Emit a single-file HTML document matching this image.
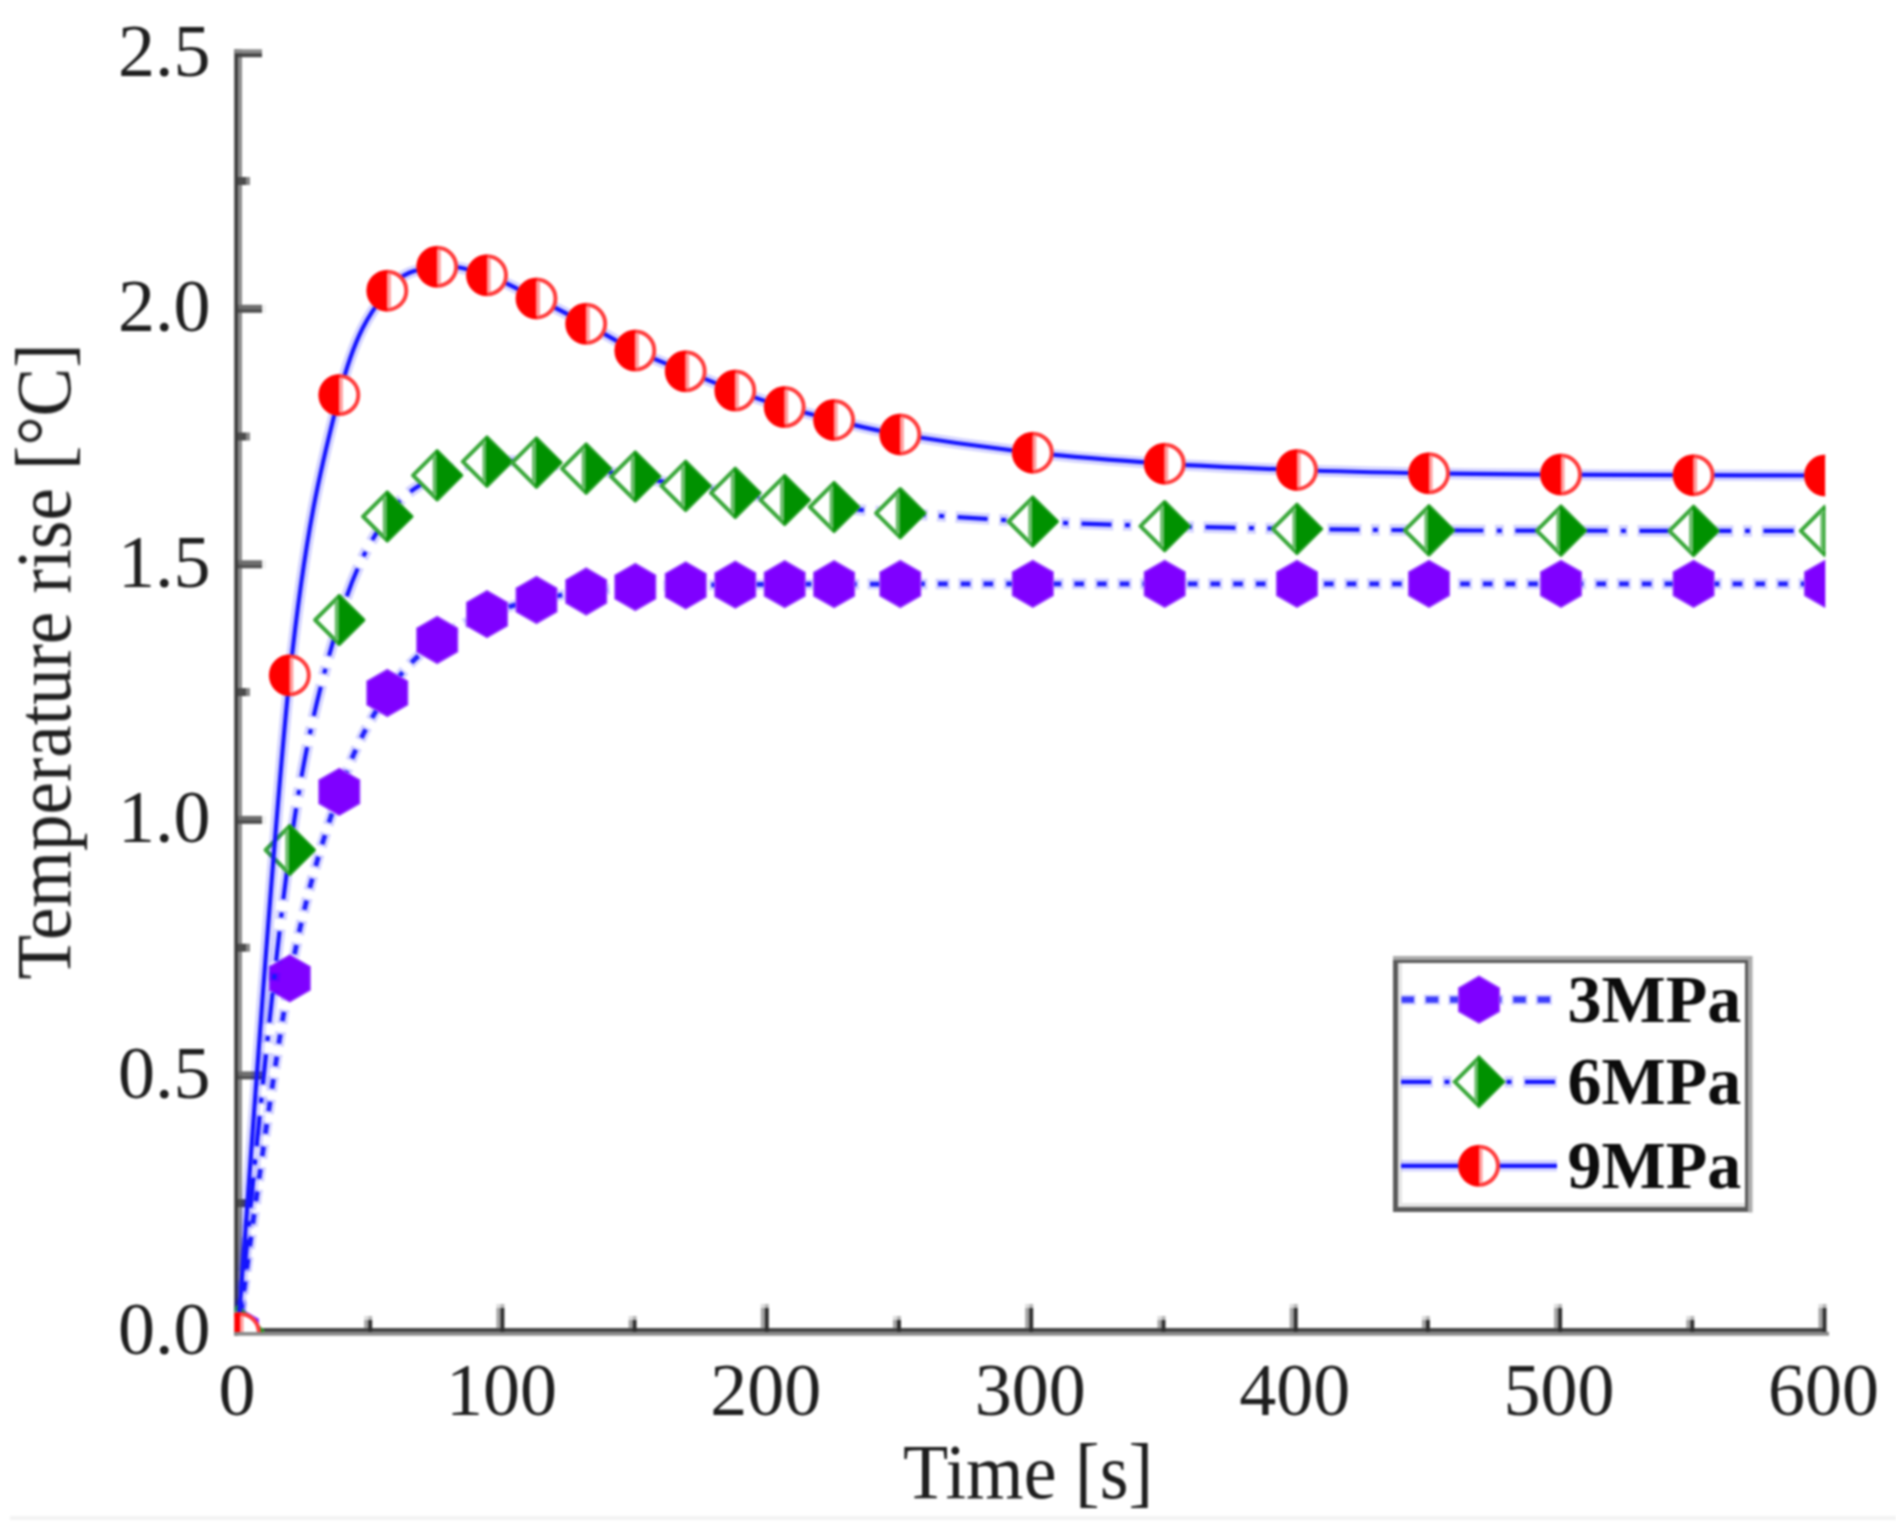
<!DOCTYPE html>
<html lang="en"><head><meta charset="utf-8"><title>Temperature rise vs time</title>
<style>html,body{margin:0;padding:0;background:#fff;}body{width:1896px;height:1530px;overflow:hidden;}svg{display:block;}text{font-family:"Liberation Serif",serif;fill:#1e1e1e;}</style>
</head><body>
<svg width="1896" height="1530" viewBox="0 0 1896 1530">
<defs><clipPath id="plot"><rect x="234.3" y="0" width="1591.0" height="1331.9"/></clipPath></defs>
<filter id="soft" x="0" y="0" width="100%" height="100%" filterUnits="userSpaceOnUse" color-interpolation-filters="sRGB"><feGaussianBlur stdDeviation="0.90"/></filter>
<rect x="0" y="0" width="1896" height="1530" fill="#fff"/>
<g filter="url(#soft)">
<rect x="0" y="0" width="1896" height="1530" fill="#fff"/>
<rect x="10" y="1516" width="1886" height="4" fill="#f3f3f3"/>
<g>
<rect x="234.3" y="49.3" width="3.9" height="1286.4" fill="#3c3c3c"/>
<rect x="238.2" y="49.3" width="3.8" height="1282.5" fill="#8a8a8a"/>
<rect x="242" y="1328.1" width="1584.0" height="3.8" fill="#3c3c3c"/>
<rect x="234.3" y="1331.8" width="1594.7" height="3.9" fill="#8a8a8a"/>
<rect x="238" y="1199.2" width="8" height="8" fill="#4c4c4c"/>
<rect x="246" y="1199.2" width="4" height="8" fill="#888"/>
<rect x="238" y="1071.4" width="24" height="4" fill="#6c6c6c"/>
<rect x="238" y="1075.4" width="24" height="4" fill="#505050"/>
<rect x="262" y="1071.4" width="4" height="8" fill="#f2f2f2"/>
<rect x="238" y="943.7" width="8" height="8" fill="#4c4c4c"/>
<rect x="246" y="943.7" width="4" height="8" fill="#888"/>
<rect x="238" y="815.9" width="24" height="4" fill="#6c6c6c"/>
<rect x="238" y="819.9" width="24" height="4" fill="#505050"/>
<rect x="262" y="815.9" width="4" height="8" fill="#f2f2f2"/>
<rect x="238" y="688.1" width="8" height="8" fill="#4c4c4c"/>
<rect x="246" y="688.1" width="4" height="8" fill="#888"/>
<rect x="238" y="560.3" width="24" height="4" fill="#6c6c6c"/>
<rect x="238" y="564.3" width="24" height="4" fill="#505050"/>
<rect x="262" y="560.3" width="4" height="8" fill="#f2f2f2"/>
<rect x="238" y="432.5" width="8" height="8" fill="#4c4c4c"/>
<rect x="246" y="432.5" width="4" height="8" fill="#888"/>
<rect x="238" y="304.8" width="24" height="4" fill="#6c6c6c"/>
<rect x="238" y="308.8" width="24" height="4" fill="#505050"/>
<rect x="262" y="304.8" width="4" height="8" fill="#f2f2f2"/>
<rect x="238" y="177.0" width="8" height="8" fill="#4c4c4c"/>
<rect x="246" y="177.0" width="4" height="8" fill="#888"/>
<rect x="234.3" y="49.3" width="27.7" height="4" fill="#8a8a8a"/>
<rect x="238" y="53.2" width="24.0" height="4" fill="#444"/>
<rect x="364.2" y="1320.0" width="4" height="8.1" fill="#a4a4a4"/>
<rect x="368.2" y="1320.0" width="4" height="12.0" fill="#2e2e2e"/>
<rect x="364.2" y="1316.0" width="4" height="4" fill="#dcdcdc"/>
<rect x="368.2" y="1316.0" width="4" height="4" fill="#b4b4b4"/>
<rect x="496.4" y="1308.0" width="4" height="20.1" fill="#a4a4a4"/>
<rect x="500.4" y="1308.0" width="4" height="24.0" fill="#2e2e2e"/>
<rect x="496.4" y="1304.0" width="4" height="4" fill="#dcdcdc"/>
<rect x="500.4" y="1304.0" width="4" height="4" fill="#b4b4b4"/>
<rect x="628.6" y="1320.0" width="4" height="8.1" fill="#a4a4a4"/>
<rect x="632.6" y="1320.0" width="4" height="12.0" fill="#2e2e2e"/>
<rect x="628.6" y="1316.0" width="4" height="4" fill="#dcdcdc"/>
<rect x="632.6" y="1316.0" width="4" height="4" fill="#b4b4b4"/>
<rect x="760.8" y="1308.0" width="4" height="20.1" fill="#a4a4a4"/>
<rect x="764.8" y="1308.0" width="4" height="24.0" fill="#2e2e2e"/>
<rect x="760.8" y="1304.0" width="4" height="4" fill="#dcdcdc"/>
<rect x="764.8" y="1304.0" width="4" height="4" fill="#b4b4b4"/>
<rect x="893.0" y="1320.0" width="4" height="8.1" fill="#a4a4a4"/>
<rect x="897.0" y="1320.0" width="4" height="12.0" fill="#2e2e2e"/>
<rect x="893.0" y="1316.0" width="4" height="4" fill="#dcdcdc"/>
<rect x="897.0" y="1316.0" width="4" height="4" fill="#b4b4b4"/>
<rect x="1025.2" y="1308.0" width="4" height="20.1" fill="#a4a4a4"/>
<rect x="1029.2" y="1308.0" width="4" height="24.0" fill="#2e2e2e"/>
<rect x="1025.2" y="1304.0" width="4" height="4" fill="#dcdcdc"/>
<rect x="1029.2" y="1304.0" width="4" height="4" fill="#b4b4b4"/>
<rect x="1157.5" y="1320.0" width="4" height="8.1" fill="#a4a4a4"/>
<rect x="1161.5" y="1320.0" width="4" height="12.0" fill="#2e2e2e"/>
<rect x="1157.5" y="1316.0" width="4" height="4" fill="#dcdcdc"/>
<rect x="1161.5" y="1316.0" width="4" height="4" fill="#b4b4b4"/>
<rect x="1289.7" y="1308.0" width="4" height="20.1" fill="#a4a4a4"/>
<rect x="1293.7" y="1308.0" width="4" height="24.0" fill="#2e2e2e"/>
<rect x="1289.7" y="1304.0" width="4" height="4" fill="#dcdcdc"/>
<rect x="1293.7" y="1304.0" width="4" height="4" fill="#b4b4b4"/>
<rect x="1421.9" y="1320.0" width="4" height="8.1" fill="#a4a4a4"/>
<rect x="1425.9" y="1320.0" width="4" height="12.0" fill="#2e2e2e"/>
<rect x="1421.9" y="1316.0" width="4" height="4" fill="#dcdcdc"/>
<rect x="1425.9" y="1316.0" width="4" height="4" fill="#b4b4b4"/>
<rect x="1554.1" y="1308.0" width="4" height="20.1" fill="#a4a4a4"/>
<rect x="1558.1" y="1308.0" width="4" height="24.0" fill="#2e2e2e"/>
<rect x="1554.1" y="1304.0" width="4" height="4" fill="#dcdcdc"/>
<rect x="1558.1" y="1304.0" width="4" height="4" fill="#b4b4b4"/>
<rect x="1686.3" y="1320.0" width="4" height="8.1" fill="#a4a4a4"/>
<rect x="1690.3" y="1320.0" width="4" height="12.0" fill="#2e2e2e"/>
<rect x="1686.3" y="1316.0" width="4" height="4" fill="#dcdcdc"/>
<rect x="1690.3" y="1316.0" width="4" height="4" fill="#b4b4b4"/>
<rect x="1818.5" y="1308.0" width="4" height="20.1" fill="#a4a4a4"/>
<rect x="1822.5" y="1308.0" width="4" height="24.0" fill="#2e2e2e"/>
<rect x="1818.5" y="1304.0" width="4" height="4" fill="#dcdcdc"/>
<rect x="1822.5" y="1304.0" width="4" height="4" fill="#b4b4b4"/>
</g>
<g clip-path="url(#plot)" fill="none" stroke-linejoin="round">
<path d="M238.0 1331.0 C246.6 1272.2 272.9 1068.3 289.8 978.4 C306.7 888.5 323.1 839.4 339.3 791.8 C355.6 744.2 371.0 718.3 387.3 693.0 C403.6 667.7 420.6 653.1 437.2 640.0 C453.8 626.9 470.4 620.8 487.0 614.1 C503.6 607.4 520.0 603.8 536.5 600.0 C553.0 596.2 569.7 593.7 586.2 591.5 C602.7 589.3 618.7 588.0 635.3 587.0 C651.9 586.0 669.0 585.8 685.7 585.4 C702.4 585.0 718.8 584.9 735.3 584.7 C751.8 584.5 768.2 584.3 784.7 584.2 C801.2 584.1 814.8 584.2 834.1 584.2 C853.4 584.2 867.2 584.1 900.3 584.0 C933.4 583.9 988.7 583.8 1032.8 583.8 C1076.9 583.8 1120.7 583.8 1164.7 583.8 C1208.7 583.8 1253.0 583.8 1297.0 583.8 C1341.0 583.8 1385.0 583.8 1429.0 583.8 C1473.0 583.8 1516.9 583.8 1561.0 583.8 C1605.1 583.8 1649.6 583.8 1693.6 583.8 C1737.6 583.8 1803.1 583.8 1825.0 583.8" stroke="#0000ff" stroke-opacity="0.17" stroke-width="11" stroke-dasharray="14.5 8.2" stroke-dashoffset="7.5"/><path d="M238.0 1331.0 C246.6 1272.2 272.9 1068.3 289.8 978.4 C306.7 888.5 323.1 839.4 339.3 791.8 C355.6 744.2 371.0 718.3 387.3 693.0 C403.6 667.7 420.6 653.1 437.2 640.0 C453.8 626.9 470.4 620.8 487.0 614.1 C503.6 607.4 520.0 603.8 536.5 600.0 C553.0 596.2 569.7 593.7 586.2 591.5 C602.7 589.3 618.7 588.0 635.3 587.0 C651.9 586.0 669.0 585.8 685.7 585.4 C702.4 585.0 718.8 584.9 735.3 584.7 C751.8 584.5 768.2 584.3 784.7 584.2 C801.2 584.1 814.8 584.2 834.1 584.2 C853.4 584.2 867.2 584.1 900.3 584.0 C933.4 583.9 988.7 583.8 1032.8 583.8 C1076.9 583.8 1120.7 583.8 1164.7 583.8 C1208.7 583.8 1253.0 583.8 1297.0 583.8 C1341.0 583.8 1385.0 583.8 1429.0 583.8 C1473.0 583.8 1516.9 583.8 1561.0 583.8 C1605.1 583.8 1649.6 583.8 1693.6 583.8 C1737.6 583.8 1803.1 583.8 1825.0 583.8" stroke="#2222fd" stroke-width="4.8" stroke-dasharray="9.5 13.2" stroke-dashoffset="5.0"/>
<polygon points="238.0,1307.5 217.6,1319.2 217.6,1342.8 238.0,1354.5 258.4,1342.8 258.4,1319.2" fill="#7f00ff" stroke="#a050ff" stroke-width="1.5"/>
<polygon points="289.8,954.9 269.4,966.6 269.4,990.1 289.8,1001.9 310.2,990.1 310.2,966.6" fill="#7f00ff" stroke="#a050ff" stroke-width="1.5"/>
<polygon points="339.3,768.3 318.9,780.0 318.9,803.5 339.3,815.3 359.7,803.5 359.7,780.0" fill="#7f00ff" stroke="#a050ff" stroke-width="1.5"/>
<polygon points="387.3,669.5 366.9,681.2 366.9,704.8 387.3,716.5 407.7,704.8 407.7,681.2" fill="#7f00ff" stroke="#a050ff" stroke-width="1.5"/>
<polygon points="437.2,616.5 416.8,628.2 416.8,651.8 437.2,663.5 457.6,651.8 457.6,628.2" fill="#7f00ff" stroke="#a050ff" stroke-width="1.5"/>
<polygon points="487.0,590.6 466.6,602.4 466.6,625.9 487.0,637.6 507.4,625.9 507.4,602.4" fill="#7f00ff" stroke="#a050ff" stroke-width="1.5"/>
<polygon points="536.5,576.5 516.1,588.2 516.1,611.8 536.5,623.5 556.9,611.8 556.9,588.2" fill="#7f00ff" stroke="#a050ff" stroke-width="1.5"/>
<polygon points="586.2,568.0 565.8,579.8 565.8,603.2 586.2,615.0 606.6,603.2 606.6,579.8" fill="#7f00ff" stroke="#a050ff" stroke-width="1.5"/>
<polygon points="635.3,563.5 614.9,575.2 614.9,598.8 635.3,610.5 655.7,598.8 655.7,575.2" fill="#7f00ff" stroke="#a050ff" stroke-width="1.5"/>
<polygon points="685.7,561.9 665.3,573.6 665.3,597.1 685.7,608.9 706.1,597.1 706.1,573.6" fill="#7f00ff" stroke="#a050ff" stroke-width="1.5"/>
<polygon points="735.3,561.2 714.9,573.0 714.9,596.5 735.3,608.2 755.7,596.5 755.7,573.0" fill="#7f00ff" stroke="#a050ff" stroke-width="1.5"/>
<polygon points="784.7,560.7 764.3,572.5 764.3,596.0 784.7,607.7 805.1,596.0 805.1,572.5" fill="#7f00ff" stroke="#a050ff" stroke-width="1.5"/>
<polygon points="834.1,560.7 813.7,572.5 813.7,596.0 834.1,607.7 854.5,596.0 854.5,572.5" fill="#7f00ff" stroke="#a050ff" stroke-width="1.5"/>
<polygon points="900.3,560.5 879.9,572.2 879.9,595.8 900.3,607.5 920.7,595.8 920.7,572.2" fill="#7f00ff" stroke="#a050ff" stroke-width="1.5"/>
<polygon points="1032.8,560.3 1012.4,572.0 1012.4,595.5 1032.8,607.3 1053.2,595.5 1053.2,572.0" fill="#7f00ff" stroke="#a050ff" stroke-width="1.5"/>
<polygon points="1164.7,560.3 1144.3,572.0 1144.3,595.5 1164.7,607.3 1185.1,595.5 1185.1,572.0" fill="#7f00ff" stroke="#a050ff" stroke-width="1.5"/>
<polygon points="1297.0,560.3 1276.6,572.0 1276.6,595.5 1297.0,607.3 1317.4,595.5 1317.4,572.0" fill="#7f00ff" stroke="#a050ff" stroke-width="1.5"/>
<polygon points="1429.0,560.3 1408.6,572.0 1408.6,595.5 1429.0,607.3 1449.4,595.5 1449.4,572.0" fill="#7f00ff" stroke="#a050ff" stroke-width="1.5"/>
<polygon points="1561.0,560.3 1540.6,572.0 1540.6,595.5 1561.0,607.3 1581.4,595.5 1581.4,572.0" fill="#7f00ff" stroke="#a050ff" stroke-width="1.5"/>
<polygon points="1693.6,560.3 1673.2,572.0 1673.2,595.5 1693.6,607.3 1714.0,595.5 1714.0,572.0" fill="#7f00ff" stroke="#a050ff" stroke-width="1.5"/>
<polygon points="1825.0,560.3 1804.6,572.0 1804.6,595.5 1825.0,607.3 1845.4,595.5 1845.4,572.0" fill="#7f00ff" stroke="#a050ff" stroke-width="1.5"/>
<path d="M238.0 1331.0 C246.6 1250.8 272.9 968.5 289.8 850.0 C306.7 731.5 323.1 675.6 339.3 620.0 C355.6 564.4 371.0 540.6 387.3 516.5 C403.6 492.4 420.6 484.4 437.2 475.3 C453.8 466.2 470.4 463.7 487.0 461.6 C503.6 459.5 520.0 461.4 536.5 462.6 C553.0 463.8 569.7 466.3 586.2 468.6 C602.7 470.9 618.7 473.6 635.3 476.5 C651.9 479.4 669.0 483.2 685.7 485.9 C702.4 488.6 718.8 490.5 735.3 492.9 C751.8 495.2 768.2 497.6 784.7 500.0 C801.2 502.4 814.8 504.8 834.1 507.0 C853.4 509.2 867.2 510.8 900.3 513.2 C933.4 515.6 988.7 519.3 1032.8 521.5 C1076.9 523.7 1120.7 525.0 1164.7 526.2 C1208.7 527.4 1253.0 528.2 1297.0 528.9 C1341.0 529.6 1385.0 530.0 1429.0 530.3 C1473.0 530.6 1516.9 530.5 1561.0 530.6 C1605.1 530.7 1649.6 530.9 1693.6 530.9 C1737.6 530.9 1803.1 530.9 1825.0 530.9" stroke="#0000ff" stroke-opacity="0.17" stroke-width="11.5" stroke-dasharray="34 9.5 9 9.5" stroke-dashoffset="2"/><path d="M238.0 1331.0 C246.6 1250.8 272.9 968.5 289.8 850.0 C306.7 731.5 323.1 675.6 339.3 620.0 C355.6 564.4 371.0 540.6 387.3 516.5 C403.6 492.4 420.6 484.4 437.2 475.3 C453.8 466.2 470.4 463.7 487.0 461.6 C503.6 459.5 520.0 461.4 536.5 462.6 C553.0 463.8 569.7 466.3 586.2 468.6 C602.7 470.9 618.7 473.6 635.3 476.5 C651.9 479.4 669.0 483.2 685.7 485.9 C702.4 488.6 718.8 490.5 735.3 492.9 C751.8 495.2 768.2 497.6 784.7 500.0 C801.2 502.4 814.8 504.8 834.1 507.0 C853.4 509.2 867.2 510.8 900.3 513.2 C933.4 515.6 988.7 519.3 1032.8 521.5 C1076.9 523.7 1120.7 525.0 1164.7 526.2 C1208.7 527.4 1253.0 528.2 1297.0 528.9 C1341.0 529.6 1385.0 530.0 1429.0 530.3 C1473.0 530.6 1516.9 530.5 1561.0 530.6 C1605.1 530.7 1649.6 530.9 1693.6 530.9 C1737.6 530.9 1803.1 530.9 1825.0 530.9" stroke="#1616ff" stroke-width="4.2" stroke-dasharray="30 13.5 5 13.5"/>
<polygon points="213.8,1331.0 238.0,1306.8 262.2,1331.0 238.0,1355.2" fill="#fff" stroke="#3aa83a" stroke-width="4"/><polygon points="237.0,1305.8 263.2,1331.0 237.0,1356.2" fill="#009100"/><rect x="233.5" y="1311.8" width="3.5" height="38.4" fill="#66bb66"/>
<polygon points="265.6,850.0 289.8,825.8 314.0,850.0 289.8,874.2" fill="#fff" stroke="#3aa83a" stroke-width="4"/><polygon points="288.8,824.8 315.0,850.0 288.8,875.2" fill="#009100"/><rect x="285.3" y="830.8" width="3.5" height="38.4" fill="#66bb66"/>
<polygon points="315.1,620.0 339.3,595.8 363.5,620.0 339.3,644.2" fill="#fff" stroke="#3aa83a" stroke-width="4"/><polygon points="338.3,594.8 364.5,620.0 338.3,645.2" fill="#009100"/><rect x="334.8" y="600.8" width="3.5" height="38.4" fill="#66bb66"/>
<polygon points="363.1,516.5 387.3,492.3 411.5,516.5 387.3,540.7" fill="#fff" stroke="#3aa83a" stroke-width="4"/><polygon points="386.3,491.3 412.5,516.5 386.3,541.7" fill="#009100"/><rect x="382.8" y="497.3" width="3.5" height="38.4" fill="#66bb66"/>
<polygon points="413.0,475.3 437.2,451.1 461.4,475.3 437.2,499.5" fill="#fff" stroke="#3aa83a" stroke-width="4"/><polygon points="436.2,450.1 462.4,475.3 436.2,500.5" fill="#009100"/><rect x="432.7" y="456.1" width="3.5" height="38.4" fill="#66bb66"/>
<polygon points="462.8,461.6 487.0,437.4 511.2,461.6 487.0,485.8" fill="#fff" stroke="#3aa83a" stroke-width="4"/><polygon points="486.0,436.4 512.2,461.6 486.0,486.8" fill="#009100"/><rect x="482.5" y="442.4" width="3.5" height="38.4" fill="#66bb66"/>
<polygon points="512.3,462.6 536.5,438.4 560.7,462.6 536.5,486.8" fill="#fff" stroke="#3aa83a" stroke-width="4"/><polygon points="535.5,437.4 561.7,462.6 535.5,487.8" fill="#009100"/><rect x="532.0" y="443.4" width="3.5" height="38.4" fill="#66bb66"/>
<polygon points="562.0,468.6 586.2,444.4 610.4,468.6 586.2,492.8" fill="#fff" stroke="#3aa83a" stroke-width="4"/><polygon points="585.2,443.4 611.4,468.6 585.2,493.8" fill="#009100"/><rect x="581.7" y="449.4" width="3.5" height="38.4" fill="#66bb66"/>
<polygon points="611.1,476.5 635.3,452.3 659.5,476.5 635.3,500.7" fill="#fff" stroke="#3aa83a" stroke-width="4"/><polygon points="634.3,451.3 660.5,476.5 634.3,501.7" fill="#009100"/><rect x="630.8" y="457.3" width="3.5" height="38.4" fill="#66bb66"/>
<polygon points="661.5,485.9 685.7,461.7 709.9,485.9 685.7,510.1" fill="#fff" stroke="#3aa83a" stroke-width="4"/><polygon points="684.7,460.7 710.9,485.9 684.7,511.1" fill="#009100"/><rect x="681.2" y="466.7" width="3.5" height="38.4" fill="#66bb66"/>
<polygon points="711.1,492.9 735.3,468.7 759.5,492.9 735.3,517.1" fill="#fff" stroke="#3aa83a" stroke-width="4"/><polygon points="734.3,467.7 760.5,492.9 734.3,518.1" fill="#009100"/><rect x="730.8" y="473.7" width="3.5" height="38.4" fill="#66bb66"/>
<polygon points="760.5,500.0 784.7,475.8 808.9,500.0 784.7,524.2" fill="#fff" stroke="#3aa83a" stroke-width="4"/><polygon points="783.7,474.8 809.9,500.0 783.7,525.2" fill="#009100"/><rect x="780.2" y="480.8" width="3.5" height="38.4" fill="#66bb66"/>
<polygon points="809.9,507.0 834.1,482.8 858.3,507.0 834.1,531.2" fill="#fff" stroke="#3aa83a" stroke-width="4"/><polygon points="833.1,481.8 859.3,507.0 833.1,532.2" fill="#009100"/><rect x="829.6" y="487.8" width="3.5" height="38.4" fill="#66bb66"/>
<polygon points="876.1,513.2 900.3,489.0 924.5,513.2 900.3,537.4" fill="#fff" stroke="#3aa83a" stroke-width="4"/><polygon points="899.3,488.0 925.5,513.2 899.3,538.4" fill="#009100"/><rect x="895.8" y="494.0" width="3.5" height="38.4" fill="#66bb66"/>
<polygon points="1008.6,521.5 1032.8,497.3 1057.0,521.5 1032.8,545.7" fill="#fff" stroke="#3aa83a" stroke-width="4"/><polygon points="1031.8,496.3 1058.0,521.5 1031.8,546.7" fill="#009100"/><rect x="1028.3" y="502.3" width="3.5" height="38.4" fill="#66bb66"/>
<polygon points="1140.5,526.2 1164.7,502.0 1188.9,526.2 1164.7,550.4" fill="#fff" stroke="#3aa83a" stroke-width="4"/><polygon points="1163.7,501.0 1189.9,526.2 1163.7,551.4" fill="#009100"/><rect x="1160.2" y="507.0" width="3.5" height="38.4" fill="#66bb66"/>
<polygon points="1272.8,528.9 1297.0,504.7 1321.2,528.9 1297.0,553.1" fill="#fff" stroke="#3aa83a" stroke-width="4"/><polygon points="1296.0,503.7 1322.2,528.9 1296.0,554.1" fill="#009100"/><rect x="1292.5" y="509.7" width="3.5" height="38.4" fill="#66bb66"/>
<polygon points="1404.8,530.3 1429.0,506.1 1453.2,530.3 1429.0,554.5" fill="#fff" stroke="#3aa83a" stroke-width="4"/><polygon points="1428.0,505.1 1454.2,530.3 1428.0,555.5" fill="#009100"/><rect x="1424.5" y="511.1" width="3.5" height="38.4" fill="#66bb66"/>
<polygon points="1536.8,530.6 1561.0,506.4 1585.2,530.6 1561.0,554.8" fill="#fff" stroke="#3aa83a" stroke-width="4"/><polygon points="1560.0,505.4 1586.2,530.6 1560.0,555.8" fill="#009100"/><rect x="1556.5" y="511.4" width="3.5" height="38.4" fill="#66bb66"/>
<polygon points="1669.4,530.9 1693.6,506.7 1717.8,530.9 1693.6,555.1" fill="#fff" stroke="#3aa83a" stroke-width="4"/><polygon points="1692.6,505.7 1718.8,530.9 1692.6,556.1" fill="#009100"/><rect x="1689.1" y="511.7" width="3.5" height="38.4" fill="#66bb66"/>
<polygon points="1800.8,530.9 1825.0,506.7 1849.2,530.9 1825.0,555.1" fill="#fff" stroke="#3aa83a" stroke-width="4"/><polygon points="1824.0,505.7 1850.2,530.9 1824.0,556.1" fill="#009100"/><rect x="1820.5" y="511.7" width="3.5" height="38.4" fill="#66bb66"/>
<path d="M238.0 1331.0 C246.6 1221.7 272.9 831.3 289.8 675.3 C306.7 519.3 323.1 459.2 339.3 395.1 C355.6 331.0 371.0 312.1 387.3 290.7 C403.6 269.3 420.6 269.4 437.2 266.8 C453.8 264.2 470.4 270.0 487.0 275.3 C503.6 280.6 520.0 290.4 536.5 298.5 C553.0 306.6 569.7 315.1 586.2 323.8 C602.7 332.5 618.7 342.7 635.3 350.6 C651.9 358.5 669.0 364.6 685.7 371.3 C702.4 378.0 718.8 384.6 735.3 390.6 C751.8 396.6 768.2 402.2 784.7 407.1 C801.2 412.0 814.8 415.4 834.1 420.0 C853.4 424.6 867.2 429.1 900.3 434.5 C933.4 439.9 988.7 447.8 1032.8 452.7 C1076.9 457.6 1120.7 460.8 1164.7 463.7 C1208.7 466.6 1253.0 468.4 1297.0 470.0 C1341.0 471.6 1385.0 472.5 1429.0 473.3 C1473.0 474.1 1516.9 474.3 1561.0 474.6 C1605.1 474.9 1649.6 475.1 1693.6 475.2 C1737.6 475.3 1803.1 475.4 1825.0 475.5" stroke="#0000ff" stroke-opacity="0.17" stroke-width="11.5"/><path d="M238.0 1331.0 C246.6 1221.7 272.9 831.3 289.8 675.3 C306.7 519.3 323.1 459.2 339.3 395.1 C355.6 331.0 371.0 312.1 387.3 290.7 C403.6 269.3 420.6 269.4 437.2 266.8 C453.8 264.2 470.4 270.0 487.0 275.3 C503.6 280.6 520.0 290.4 536.5 298.5 C553.0 306.6 569.7 315.1 586.2 323.8 C602.7 332.5 618.7 342.7 635.3 350.6 C651.9 358.5 669.0 364.6 685.7 371.3 C702.4 378.0 718.8 384.6 735.3 390.6 C751.8 396.6 768.2 402.2 784.7 407.1 C801.2 412.0 814.8 415.4 834.1 420.0 C853.4 424.6 867.2 429.1 900.3 434.5 C933.4 439.9 988.7 447.8 1032.8 452.7 C1076.9 457.6 1120.7 460.8 1164.7 463.7 C1208.7 466.6 1253.0 468.4 1297.0 470.0 C1341.0 471.6 1385.0 472.5 1429.0 473.3 C1473.0 474.1 1516.9 474.3 1561.0 474.6 C1605.1 474.9 1649.6 475.1 1693.6 475.2 C1737.6 475.3 1803.1 475.4 1825.0 475.5" stroke="#1616ff" stroke-width="4.2"/>
<circle cx="240.0" cy="1333.0" r="19.0" fill="#fff" stroke="#ff3c3c" stroke-width="4"/><path d="M240.0 1312.5 A20.5 20.5 0 0 0 240.0 1353.5 Z" fill="#ff0000"/><rect x="240.0" y="1316.0" width="3.5" height="34.0" fill="#ff9a9a"/>
<circle cx="289.8" cy="675.3" r="19.0" fill="#fff" stroke="#ff3c3c" stroke-width="4"/><path d="M289.8 654.8 A20.5 20.5 0 0 0 289.8 695.8 Z" fill="#ff0000"/><rect x="289.8" y="658.3" width="3.5" height="34.0" fill="#ff9a9a"/>
<circle cx="339.3" cy="395.1" r="19.0" fill="#fff" stroke="#ff3c3c" stroke-width="4"/><path d="M339.3 374.6 A20.5 20.5 0 0 0 339.3 415.6 Z" fill="#ff0000"/><rect x="339.3" y="378.1" width="3.5" height="34.0" fill="#ff9a9a"/>
<circle cx="387.3" cy="290.7" r="19.0" fill="#fff" stroke="#ff3c3c" stroke-width="4"/><path d="M387.3 270.2 A20.5 20.5 0 0 0 387.3 311.2 Z" fill="#ff0000"/><rect x="387.3" y="273.7" width="3.5" height="34.0" fill="#ff9a9a"/>
<circle cx="437.2" cy="266.8" r="19.0" fill="#fff" stroke="#ff3c3c" stroke-width="4"/><path d="M437.2 246.3 A20.5 20.5 0 0 0 437.2 287.3 Z" fill="#ff0000"/><rect x="437.2" y="249.8" width="3.5" height="34.0" fill="#ff9a9a"/>
<circle cx="487.0" cy="275.3" r="19.0" fill="#fff" stroke="#ff3c3c" stroke-width="4"/><path d="M487.0 254.8 A20.5 20.5 0 0 0 487.0 295.8 Z" fill="#ff0000"/><rect x="487.0" y="258.3" width="3.5" height="34.0" fill="#ff9a9a"/>
<circle cx="536.5" cy="298.5" r="19.0" fill="#fff" stroke="#ff3c3c" stroke-width="4"/><path d="M536.5 278.0 A20.5 20.5 0 0 0 536.5 319.0 Z" fill="#ff0000"/><rect x="536.5" y="281.5" width="3.5" height="34.0" fill="#ff9a9a"/>
<circle cx="586.2" cy="323.8" r="19.0" fill="#fff" stroke="#ff3c3c" stroke-width="4"/><path d="M586.2 303.3 A20.5 20.5 0 0 0 586.2 344.3 Z" fill="#ff0000"/><rect x="586.2" y="306.8" width="3.5" height="34.0" fill="#ff9a9a"/>
<circle cx="635.3" cy="350.6" r="19.0" fill="#fff" stroke="#ff3c3c" stroke-width="4"/><path d="M635.3 330.1 A20.5 20.5 0 0 0 635.3 371.1 Z" fill="#ff0000"/><rect x="635.3" y="333.6" width="3.5" height="34.0" fill="#ff9a9a"/>
<circle cx="685.7" cy="371.3" r="19.0" fill="#fff" stroke="#ff3c3c" stroke-width="4"/><path d="M685.7 350.8 A20.5 20.5 0 0 0 685.7 391.8 Z" fill="#ff0000"/><rect x="685.7" y="354.3" width="3.5" height="34.0" fill="#ff9a9a"/>
<circle cx="735.3" cy="390.6" r="19.0" fill="#fff" stroke="#ff3c3c" stroke-width="4"/><path d="M735.3 370.1 A20.5 20.5 0 0 0 735.3 411.1 Z" fill="#ff0000"/><rect x="735.3" y="373.6" width="3.5" height="34.0" fill="#ff9a9a"/>
<circle cx="784.7" cy="407.1" r="19.0" fill="#fff" stroke="#ff3c3c" stroke-width="4"/><path d="M784.7 386.6 A20.5 20.5 0 0 0 784.7 427.6 Z" fill="#ff0000"/><rect x="784.7" y="390.1" width="3.5" height="34.0" fill="#ff9a9a"/>
<circle cx="834.1" cy="420.0" r="19.0" fill="#fff" stroke="#ff3c3c" stroke-width="4"/><path d="M834.1 399.5 A20.5 20.5 0 0 0 834.1 440.5 Z" fill="#ff0000"/><rect x="834.1" y="403.0" width="3.5" height="34.0" fill="#ff9a9a"/>
<circle cx="900.3" cy="434.5" r="19.0" fill="#fff" stroke="#ff3c3c" stroke-width="4"/><path d="M900.3 414.0 A20.5 20.5 0 0 0 900.3 455.0 Z" fill="#ff0000"/><rect x="900.3" y="417.5" width="3.5" height="34.0" fill="#ff9a9a"/>
<circle cx="1032.8" cy="452.7" r="19.0" fill="#fff" stroke="#ff3c3c" stroke-width="4"/><path d="M1032.8 432.2 A20.5 20.5 0 0 0 1032.8 473.2 Z" fill="#ff0000"/><rect x="1032.8" y="435.7" width="3.5" height="34.0" fill="#ff9a9a"/>
<circle cx="1164.7" cy="463.7" r="19.0" fill="#fff" stroke="#ff3c3c" stroke-width="4"/><path d="M1164.7 443.2 A20.5 20.5 0 0 0 1164.7 484.2 Z" fill="#ff0000"/><rect x="1164.7" y="446.7" width="3.5" height="34.0" fill="#ff9a9a"/>
<circle cx="1297.0" cy="470.0" r="19.0" fill="#fff" stroke="#ff3c3c" stroke-width="4"/><path d="M1297.0 449.5 A20.5 20.5 0 0 0 1297.0 490.5 Z" fill="#ff0000"/><rect x="1297.0" y="453.0" width="3.5" height="34.0" fill="#ff9a9a"/>
<circle cx="1429.0" cy="473.3" r="19.0" fill="#fff" stroke="#ff3c3c" stroke-width="4"/><path d="M1429.0 452.8 A20.5 20.5 0 0 0 1429.0 493.8 Z" fill="#ff0000"/><rect x="1429.0" y="456.3" width="3.5" height="34.0" fill="#ff9a9a"/>
<circle cx="1561.0" cy="474.6" r="19.0" fill="#fff" stroke="#ff3c3c" stroke-width="4"/><path d="M1561.0 454.1 A20.5 20.5 0 0 0 1561.0 495.1 Z" fill="#ff0000"/><rect x="1561.0" y="457.6" width="3.5" height="34.0" fill="#ff9a9a"/>
<circle cx="1693.6" cy="475.2" r="19.0" fill="#fff" stroke="#ff3c3c" stroke-width="4"/><path d="M1693.6 454.7 A20.5 20.5 0 0 0 1693.6 495.7 Z" fill="#ff0000"/><rect x="1693.6" y="458.2" width="3.5" height="34.0" fill="#ff9a9a"/>
<circle cx="1825.0" cy="475.5" r="19.0" fill="#fff" stroke="#ff3c3c" stroke-width="4"/><path d="M1825.0 455.0 A20.5 20.5 0 0 0 1825.0 496.0 Z" fill="#ff0000"/><rect x="1825.0" y="458.5" width="3.5" height="34.0" fill="#ff9a9a"/>
</g>
<g font-size="74" text-anchor="end">
<text x="210.5" y="1353.5">0.0</text>
<text x="210.5" y="1097.9">0.5</text>
<text x="210.5" y="842.4">1.0</text>
<text x="210.5" y="586.8">1.5</text>
<text x="210.5" y="331.3">2.0</text>
<text x="210.5" y="75.7">2.5</text>
</g>
<g font-size="74" text-anchor="middle">
<text x="237.0" y="1414.5">0</text>
<text x="501.4" y="1414.5">100</text>
<text x="765.8" y="1414.5">200</text>
<text x="1030.2" y="1414.5">300</text>
<text x="1294.7" y="1414.5">400</text>
<text x="1559.1" y="1414.5">500</text>
<text x="1823.5" y="1414.5">600</text>
</g>
<text transform="translate(1028,1498) scale(1,1.06)" font-size="74" text-anchor="middle">Time [s]</text>
<text transform="translate(70,661.5) rotate(-90) scale(1,1.06)" font-size="73" text-anchor="middle">Temperature rise [°C]</text>
<g>
<rect x="1395.5" y="960.5" width="352" height="249" fill="#fff" stroke="#5a5a5a" stroke-width="5"/>
<rect x="1393" y="956" width="359" height="4" fill="#ababab"/>
<rect x="1748" y="956" width="4.5" height="256.5" fill="#ababab"/>
<rect x="1398" y="963" width="4" height="244" fill="#e4e4e4"/>
<rect x="1398" y="1203" width="347" height="4" fill="#e4e4e4"/>
<g fill="none"><path d="M1401.5 999.7 H1464" stroke="#0000ff" stroke-opacity="0.17" stroke-width="10.5" stroke-dasharray="16.5 7.8" stroke-dashoffset="2"/><path d="M1401.5 999.7 H1464" stroke="#3c3cfc" stroke-width="6.2" stroke-dasharray="12.5 11.8"/><path d="M1489 999.7 H1557" stroke="#0000ff" stroke-opacity="0.17" stroke-width="10.5" stroke-dasharray="16.5 7.8" stroke-dashoffset="2"/><path d="M1489 999.7 H1557" stroke="#3c3cfc" stroke-width="6.2" stroke-dasharray="12.5 11.8"/></g>
<polygon points="1479.0,976.2 1458.6,988.0 1458.6,1011.5 1479.0,1023.2 1499.4,1011.5 1499.4,988.0" fill="#7f00ff" stroke="#a050ff" stroke-width="1.5"/>
<g fill="none"><path d="M1401 1081.8 H1558" stroke="#0000ff" stroke-opacity="0.17" stroke-width="11.5" stroke-dasharray="34 9.5 9 9.5" stroke-dashoffset="2"/><path d="M1401 1081.8 H1558" stroke="#1616ff" stroke-width="4.2" stroke-dasharray="30 13.5 5 13.5"/></g>
<polygon points="1454.8,1081.8 1479.0,1057.6 1503.2,1081.8 1479.0,1106.0" fill="#fff" stroke="#3aa83a" stroke-width="4"/><polygon points="1478.0,1056.6 1504.2,1081.8 1478.0,1107.0" fill="#009100"/><rect x="1474.5" y="1062.6" width="3.5" height="38.4" fill="#66bb66"/>
<g fill="none"><path d="M1401 1165.8 H1557" stroke="#0000ff" stroke-opacity="0.17" stroke-width="11.5"/><path d="M1401 1165.8 H1557" stroke="#1616ff" stroke-width="4.2"/></g>
<circle cx="1479.0" cy="1165.8" r="19.0" fill="#fff" stroke="#ff3c3c" stroke-width="4"/><path d="M1479.0 1145.3 A20.5 20.5 0 0 0 1479.0 1186.3 Z" fill="#ff0000"/><rect x="1479.0" y="1148.8" width="3.5" height="34.0" fill="#ff9a9a"/>
<text x="1567.5" y="1022.2" font-size="68" font-weight="bold" style="fill:#0c0c0c">3MPa</text>
<text x="1567.5" y="1104.3" font-size="68" font-weight="bold" style="fill:#0c0c0c">6MPa</text>
<text x="1567.5" y="1188.3" font-size="68" font-weight="bold" style="fill:#0c0c0c">9MPa</text>
</g>
</g>
</svg>
</body></html>
